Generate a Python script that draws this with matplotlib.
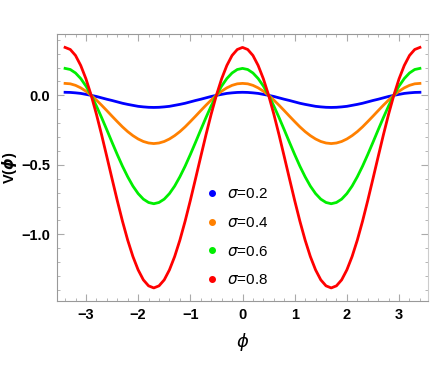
import matplotlib
matplotlib.use('Agg')
import matplotlib.pyplot as plt
from matplotlib.lines import Line2D
from matplotlib.ticker import MultipleLocator

# phi grid: -3.4 .. 3.4, step 0.1
phi = [round(-3.4 + 0.1 * i, 2) for i in range(69)]

# values (symmetric curves)
v_02 = [0.022, 0.021, 0.018, 0.014, 0.007, 0.000, -0.008, -0.018, -0.028, -0.037, -0.047, -0.057,
        -0.065, -0.072, -0.079, -0.083, -0.086, -0.087, -0.086, -0.083, -0.079, -0.072, -0.065, -0.057,
        -0.047, -0.037, -0.028, -0.018, -0.008, 0.000, 0.007, 0.014, 0.018, 0.021, 0.022,
        0.021, 0.018, 0.014, 0.007, 0.000, -0.008, -0.018, -0.028, -0.037, -0.047, -0.057,
        -0.065, -0.072, -0.079, -0.083, -0.086, -0.087, -0.086, -0.083, -0.079, -0.072, -0.065, -0.057,
        -0.047, -0.037, -0.028, -0.018, -0.008, 0.000, 0.007, 0.014, 0.018, 0.021, 0.022]
v_04 = [0.086, 0.083, 0.072, 0.054, 0.030, 0.000, -0.034, -0.071, -0.110, -0.150, -0.189, -0.227,
        -0.261, -0.290, -0.314, -0.332, -0.343, -0.347, -0.343, -0.332, -0.314, -0.290, -0.261, -0.227,
        -0.189, -0.150, -0.110, -0.071, -0.034, 0.000, 0.030, 0.054, 0.072, 0.083, 0.086,
        0.083, 0.072, 0.054, 0.030, 0.000, -0.034, -0.071, -0.110, -0.150, -0.189, -0.227,
        -0.261, -0.290, -0.314, -0.332, -0.343, -0.347, -0.343, -0.332, -0.314, -0.290, -0.261, -0.227,
        -0.189, -0.150, -0.110, -0.071, -0.034, 0.000, 0.030, 0.054, 0.072, 0.083, 0.086]
v_06 = [0.194, 0.186, 0.161, 0.121, 0.067, 0.001, -0.076, -0.160, -0.248, -0.338, -0.426, -0.510,
        -0.586, -0.653, -0.707, -0.747, -0.771, -0.780, -0.771, -0.747, -0.707, -0.653, -0.586, -0.510,
        -0.426, -0.338, -0.248, -0.160, -0.076, 0.001, 0.067, 0.121, 0.161, 0.186, 0.194,
        0.186, 0.161, 0.121, 0.067, 0.001, -0.076, -0.160, -0.248, -0.338, -0.426, -0.510,
        -0.586, -0.653, -0.707, -0.747, -0.771, -0.780, -0.771, -0.747, -0.707, -0.653, -0.586, -0.510,
        -0.426, -0.338, -0.248, -0.160, -0.076, 0.001, 0.067, 0.121, 0.161, 0.186, 0.194]
v_08 = [0.345, 0.330, 0.287, 0.215, 0.119, 0.001, -0.135, -0.284, -0.441, -0.600, -0.757, -0.906,
        -1.042, -1.160, -1.256, -1.328, -1.371, -1.386, -1.371, -1.328, -1.256, -1.160, -1.042, -0.906,
        -0.757, -0.600, -0.441, -0.284, -0.135, 0.001, 0.119, 0.215, 0.287, 0.330, 0.345,
        0.330, 0.287, 0.215, 0.119, 0.001, -0.135, -0.284, -0.441, -0.600, -0.757, -0.906,
        -1.042, -1.160, -1.256, -1.328, -1.371, -1.386, -1.371, -1.328, -1.256, -1.160, -1.042, -0.906,
        -0.757, -0.600, -0.441, -0.284, -0.135, 0.001, 0.119, 0.215, 0.287, 0.330, 0.345]

series = [v_02, v_04, v_06, v_08]
labels = ['0.2', '0.4', '0.6', '0.8']
colors = ['#0000ff', '#ff8000', '#00ee00', '#ff0000']

plt.rcParams['font.family'] = ['Liberation Sans', 'DejaVu Sans']
plt.rcParams['mathtext.fontset'] = 'dejavusans'

fig = plt.figure(figsize=(4.36, 3.82), dpi=100)
ax = fig.add_axes([0.1307, 0.2128, 0.851, 0.698])

for v, c in zip(series, colors):
    ax.plot(phi, v, color=c, lw=2)

ax.set_xlim(-3.555, 3.555)
ax.set_ylim(-1.478, 0.441)

ax.xaxis.set_major_locator(MultipleLocator(1))
ax.xaxis.set_minor_locator(MultipleLocator(0.2))
ax.yaxis.set_major_locator(MultipleLocator(0.5))
ax.yaxis.set_minor_locator(MultipleLocator(0.1))
ax.yaxis.set_major_formatter(plt.FuncFormatter(lambda y, p: ('%.1f' % y).replace('-', '\u2212')))
ax.xaxis.set_major_formatter(plt.FuncFormatter(lambda x, p: ('%d' % round(x)).replace('-', '\u2212')))

ax.tick_params(which='both', direction='in', color='#aaaaaa', top=True, right=True)
ax.tick_params(which='major', length=5, width=0.8, labelsize=10.5, pad=5)
ax.tick_params(which='minor', length=2.5, width=0.6)
for lab in ax.get_xticklabels() + ax.get_yticklabels():
    lab.set_fontweight('bold')
for s in ax.spines.values():
    s.set_color('#999999')
ax.spines['right'].set_color('#cccccc')

ax.set_xlabel(r'$\phi$', fontsize=13, labelpad=7)
ax.set_ylabel(r'V($\boldsymbol{\phi}$)', fontsize=10.5, fontweight='bold')
ax.yaxis.set_label_coords(-0.102, 0.5)

handles = [Line2D([], [], ls='none', marker='o', ms=4, color=c) for c in colors]
ax.legend(handles, [r'$\sigma$=' + s for s in labels], loc='center left',
          bbox_to_anchor=(0.4, 0.238), frameon=False, handlelength=0.8,
          handletextpad=0.6, labelspacing=0.95, fontsize=11, borderpad=0, borderaxespad=0)

fig.savefig('out.png', dpi=100)
